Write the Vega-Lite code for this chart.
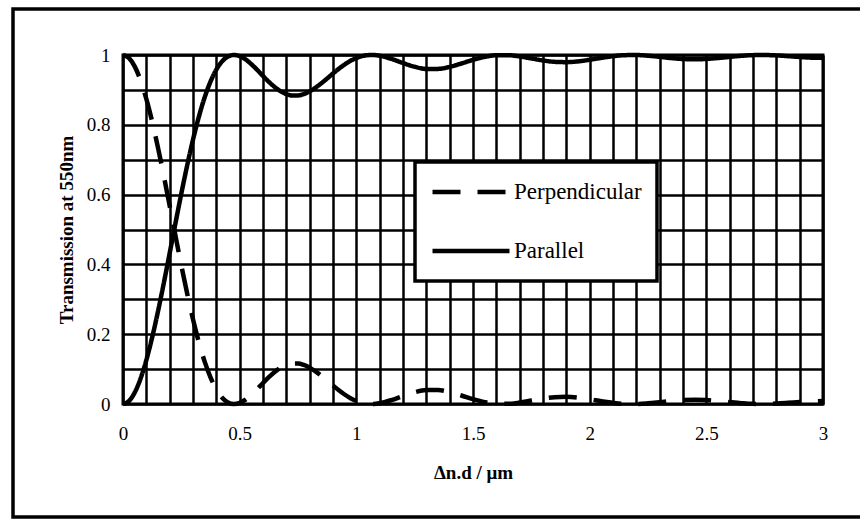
{
  "$schema": "https://vega.github.io/schema/vega-lite/v6.json",
  "width": 700,
  "height": 349,
  "autosize": {"type": "none"},
  "padding": {"left": 123, "top": 55, "right": 37, "bottom": 117},
  "background": "white",
  "config": {
    "view": {"stroke": "black", "strokeWidth": 3},
    "axis": {
      "grid": true, "gridColor": "black", "gridWidth": 2.5, "gridOpacity": 1,
      "domain": false, "ticks": false,
      "labelFont": "Liberation Serif", "labelFontSize": 19, "labelColor": "black",
      "titleFont": "Liberation Serif", "titleFontSize": 19, "titleFontWeight": "bold", "titleColor": "black"
    }
  },
  "layer": [
    {
      "data": {"values": [{}]},
      "mark": {"type": "rect", "fillOpacity": 0, "stroke": "black", "strokeWidth": 3.5},
      "encoding": {
        "x": {"datum": -0.4714, "type": "quantitative", "scale": {"domain": [0, 3], "nice": false}, "axis": {"title": "Δn.d / μm", "values": [0,0.1,0.2,0.3,0.4,0.5,0.6,0.7,0.8,0.9,1,1.1,1.2,1.3,1.4,1.5,1.6,1.7,1.8,1.9,2,2.1,2.2,2.3,2.4,2.5,2.6,2.7,2.8,2.9,3], "labelExpr": "abs(datum.value*2-round(datum.value*2))<1e-6 ? format(datum.value,'~g') : ''", "labelPadding": 20, "titlePadding": 20, "labelFlush": false}},
        "x2": {"datum": 3.171},
        "y": {"datum": -0.3238, "type": "quantitative", "scale": {"domain": [0, 1], "nice": false}, "axis": {"title": "Transmission at 550nm", "values": [0,0.1,0.2,0.3,0.4,0.5,0.6,0.7,0.8,0.9,1], "labelExpr": "abs(datum.value*5-round(datum.value*5))<1e-6 ? format(datum.value,'~g') : ''", "labelPadding": 13, "titlePadding": 10, "labelFlush": false}},
        "y2": {"datum": 1.1318}
      }
    },
    {
      "data": {"values": [
        {"d":0,"Perpendicular":1.0,"Parallel":0.0},
        {"d":0.025,"Perpendicular":0.9918,"Parallel":0.0082},
        {"d":0.05,"Perpendicular":0.9674,"Parallel":0.0326},
        {"d":0.075,"Perpendicular":0.9277,"Parallel":0.0723},
        {"d":0.1,"Perpendicular":0.8743,"Parallel":0.1257},
        {"d":0.125,"Perpendicular":0.8091,"Parallel":0.1909},
        {"d":0.15,"Perpendicular":0.7345,"Parallel":0.2655},
        {"d":0.175,"Perpendicular":0.6531,"Parallel":0.3469},
        {"d":0.2,"Perpendicular":0.5679,"Parallel":0.4321},
        {"d":0.225,"Perpendicular":0.4815,"Parallel":0.5185},
        {"d":0.25,"Perpendicular":0.3969,"Parallel":0.6031},
        {"d":0.275,"Perpendicular":0.3166,"Parallel":0.6834},
        {"d":0.3,"Perpendicular":0.2427,"Parallel":0.7573},
        {"d":0.325,"Perpendicular":0.1772,"Parallel":0.8228},
        {"d":0.35,"Perpendicular":0.1214,"Parallel":0.8786},
        {"d":0.375,"Perpendicular":0.0763,"Parallel":0.9237},
        {"d":0.4,"Perpendicular":0.0418,"Parallel":0.9582},
        {"d":0.425,"Perpendicular":0.0181,"Parallel":0.9819},
        {"d":0.45,"Perpendicular":0.0045,"Parallel":0.9955},
        {"d":0.475,"Perpendicular":0.0,"Parallel":1.0},
        {"d":0.5,"Perpendicular":0.0032,"Parallel":0.9968},
        {"d":0.525,"Perpendicular":0.0125,"Parallel":0.9875},
        {"d":0.55,"Perpendicular":0.0263,"Parallel":0.9737},
        {"d":0.575,"Perpendicular":0.0426,"Parallel":0.9574},
        {"d":0.6,"Perpendicular":0.0601,"Parallel":0.9399},
        {"d":0.625,"Perpendicular":0.0768,"Parallel":0.9232},
        {"d":0.65,"Perpendicular":0.0917,"Parallel":0.9083},
        {"d":0.675,"Perpendicular":0.1036,"Parallel":0.8964},
        {"d":0.7,"Perpendicular":0.1118,"Parallel":0.8882},
        {"d":0.725,"Perpendicular":0.116,"Parallel":0.884},
        {"d":0.75,"Perpendicular":0.1159,"Parallel":0.8841},
        {"d":0.775,"Perpendicular":0.1118,"Parallel":0.8882},
        {"d":0.8,"Perpendicular":0.1042,"Parallel":0.8958},
        {"d":0.825,"Perpendicular":0.0936,"Parallel":0.9064},
        {"d":0.85,"Perpendicular":0.081,"Parallel":0.919},
        {"d":0.875,"Perpendicular":0.0672,"Parallel":0.9328},
        {"d":0.9,"Perpendicular":0.053,"Parallel":0.947},
        {"d":0.925,"Perpendicular":0.0394,"Parallel":0.9606},
        {"d":0.95,"Perpendicular":0.0272,"Parallel":0.9728},
        {"d":0.975,"Perpendicular":0.0167,"Parallel":0.9833},
        {"d":1.0,"Perpendicular":0.0087,"Parallel":0.9913},
        {"d":1.025,"Perpendicular":0.0032,"Parallel":0.9968},
        {"d":1.05,"Perpendicular":0.0004,"Parallel":0.9996},
        {"d":1.075,"Perpendicular":0.0002,"Parallel":0.9998},
        {"d":1.1,"Perpendicular":0.0022,"Parallel":0.9978},
        {"d":1.15,"Perpendicular":0.0111,"Parallel":0.9889},
        {"d":1.2,"Perpendicular":0.0231,"Parallel":0.9769},
        {"d":1.25,"Perpendicular":0.0338,"Parallel":0.9662},
        {"d":1.3,"Perpendicular":0.0399,"Parallel":0.9601},
        {"d":1.35,"Perpendicular":0.0398,"Parallel":0.9602},
        {"d":1.4,"Perpendicular":0.034,"Parallel":0.966},
        {"d":1.45,"Perpendicular":0.0244,"Parallel":0.9756},
        {"d":1.5,"Perpendicular":0.0139,"Parallel":0.9861},
        {"d":1.55,"Perpendicular":0.0054,"Parallel":0.9946},
        {"d":1.6,"Perpendicular":0.0007,"Parallel":0.9993},
        {"d":1.65,"Perpendicular":0.0005,"Parallel":0.9995},
        {"d":1.7,"Perpendicular":0.0041,"Parallel":0.9959},
        {"d":1.75,"Perpendicular":0.0098,"Parallel":0.9902},
        {"d":1.8,"Perpendicular":0.0156,"Parallel":0.9844},
        {"d":1.85,"Perpendicular":0.0196,"Parallel":0.9804},
        {"d":1.9,"Perpendicular":0.0205,"Parallel":0.9795},
        {"d":1.95,"Perpendicular":0.0183,"Parallel":0.9817},
        {"d":2.0,"Perpendicular":0.0137,"Parallel":0.9863},
        {"d":2.05,"Perpendicular":0.0082,"Parallel":0.9918},
        {"d":2.1,"Perpendicular":0.0034,"Parallel":0.9966},
        {"d":2.15,"Perpendicular":0.0005,"Parallel":0.9995},
        {"d":2.2,"Perpendicular":0.0001,"Parallel":0.9999},
        {"d":2.25,"Perpendicular":0.002,"Parallel":0.998},
        {"d":2.3,"Perpendicular":0.0053,"Parallel":0.9947},
        {"d":2.35,"Perpendicular":0.0089,"Parallel":0.9911},
        {"d":2.4,"Perpendicular":0.0115,"Parallel":0.9885},
        {"d":2.45,"Perpendicular":0.0124,"Parallel":0.9876},
        {"d":2.5,"Perpendicular":0.0113,"Parallel":0.9887},
        {"d":2.55,"Perpendicular":0.0087,"Parallel":0.9913},
        {"d":2.6,"Perpendicular":0.0054,"Parallel":0.9946},
        {"d":2.65,"Perpendicular":0.0024,"Parallel":0.9976},
        {"d":2.7,"Perpendicular":0.0004,"Parallel":0.9996},
        {"d":2.75,"Perpendicular":0.0001,"Parallel":0.9999},
        {"d":2.8,"Perpendicular":0.0012,"Parallel":0.9988},
        {"d":2.85,"Perpendicular":0.0033,"Parallel":0.9967},
        {"d":2.9,"Perpendicular":0.0057,"Parallel":0.9943},
        {"d":2.95,"Perpendicular":0.0076,"Parallel":0.9924},
        {"d":3.0,"Perpendicular":0.0083,"Parallel":0.9917}
      ]},
      "transform": [{"fold": ["Perpendicular", "Parallel"], "as": ["series", "T"]}],
      "mark": {"type": "line", "color": "black", "strokeWidth": 4.5, "interpolate": "monotone"},
      "encoding": {
        "x": {"field": "d", "type": "quantitative", "scale": {"domain": [0, 3], "nice": false}, "axis": {"title": "Δn.d / μm", "values": [0,0.1,0.2,0.3,0.4,0.5,0.6,0.7,0.8,0.9,1,1.1,1.2,1.3,1.4,1.5,1.6,1.7,1.8,1.9,2,2.1,2.2,2.3,2.4,2.5,2.6,2.7,2.8,2.9,3], "labelExpr": "abs(datum.value*2-round(datum.value*2))<1e-6 ? format(datum.value,'~g') : ''", "labelPadding": 20, "titlePadding": 20, "labelFlush": false}},
        "y": {"field": "T", "type": "quantitative", "scale": {"domain": [0, 1], "nice": false}, "axis": {"title": "Transmission at 550nm", "values": [0,0.1,0.2,0.3,0.4,0.5,0.6,0.7,0.8,0.9,1], "labelExpr": "abs(datum.value*5-round(datum.value*5))<1e-6 ? format(datum.value,'~g') : ''", "labelPadding": 13, "titlePadding": 10, "labelFlush": false}},
        "strokeDash": {
          "field": "series", "type": "nominal",
          "scale": {"domain": ["Perpendicular", "Parallel"], "range": [[28, 17], [1, 0]]},
          "legend": {
            "title": null, "orient": "none", "legendX": 292, "legendY": 107,
            "symbolType": "stroke", "symbolSize": 5929, "symbolStrokeWidth": 4.5, "symbolStrokeColor": "black",
            "labelFont": "Liberation Serif", "labelFontSize": 23, "labelColor": "black", "labelOffset": 2,
            "padding": 15, "rowPadding": 29, "clipHeight": 30,
            "fillColor": "white", "strokeColor": "black",
            "encode": {"legend": {"update": {"strokeWidth": {"value": 3.5}}}}
          }
        }
      }
    }
  ]
}
